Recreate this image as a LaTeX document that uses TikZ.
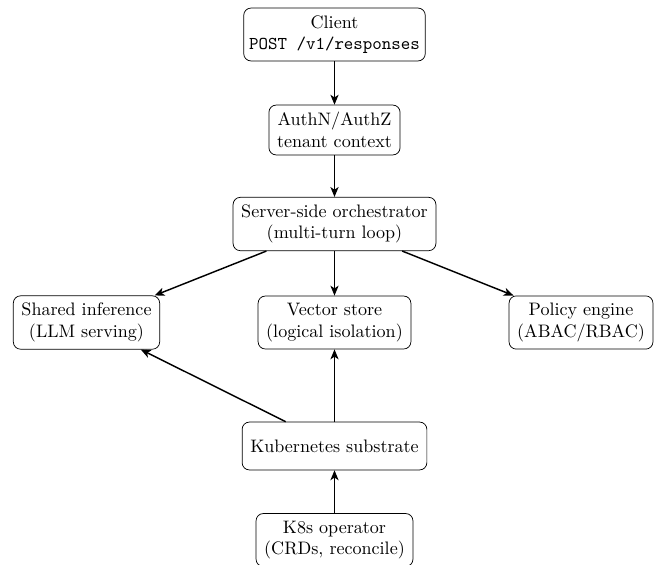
\documentclass[tikz,border=0pt]{standalone}
\usetikzlibrary{arrows.meta}
\begin{document}
\begin{tikzpicture}[x=0.5537pt,y=-0.5537pt,
  box/.style={draw,rounded corners=4pt,align=center,inner xsep=4.5pt,inner ysep=4pt,minimum height=26.5pt,font=\normalsize},
  arr/.style={-{Stealth[length=5.5pt,width=4.5pt,inset=1.5pt]},thick}]
\useasboundingbox (0,0) rectangle (657,564);
\node[box,inner xsep=3pt] (client) at (334.5,34.5) {Client\\\texttt{POST /v1/responses}};
\node[box] (auth) at (334.5,130) {AuthN/AuthZ\\tenant context};
\node[box] (orch) at (334.5,224) {Server-side orchestrator\\(multi-turn loop)};
\node[box] (shared) at (86.5,322.5) {Shared inference\\(LLM serving)};
\node[box] (vector) at (334.5,322.5) {Vector store\\(logical isolation)};
\node[box] (policy) at (581,322.5) {Policy engine\\(ABAC/RBAC)};
\node[box] (kube) at (334.5,446) {Kubernetes substrate};
\node[box] (op) at (334.5,540) {K8s operator\\(CRDs, reconcile)};
\draw[arr] (client) -- (auth);
\draw[arr] (auth) -- (orch);
\draw[arr] (orch) -- (shared);
\draw[arr] (orch) -- (vector);
\draw[arr] (orch) -- (policy);
\draw[arr] (kube) -- (shared);
\draw[arr] (kube) -- (vector);
\draw[arr] (op) -- (kube);
\end{tikzpicture}
\end{document}
